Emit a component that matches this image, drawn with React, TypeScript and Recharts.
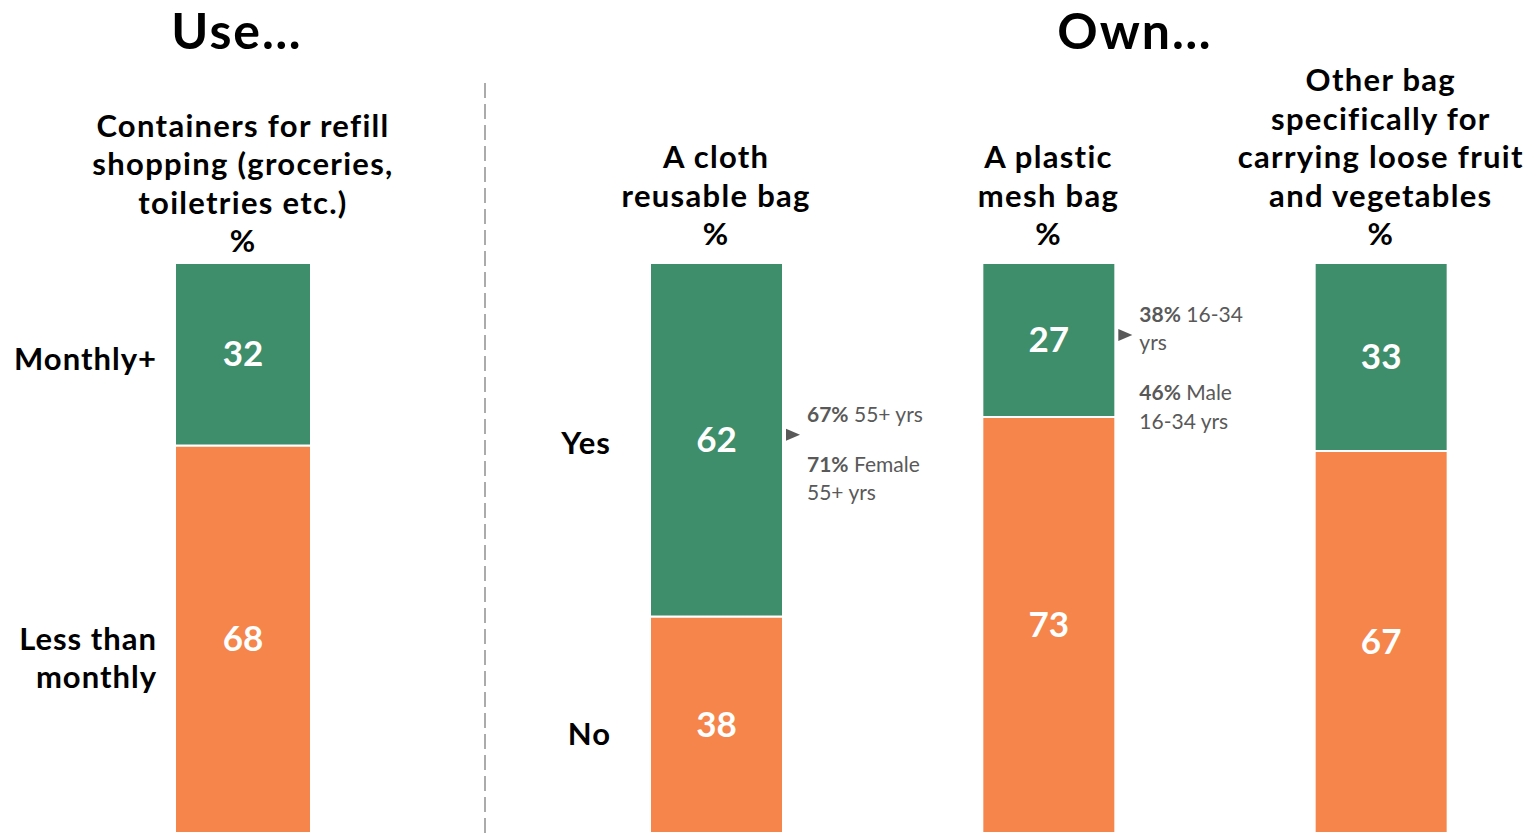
import React from 'react';
import { BarChart, Bar, XAxis, YAxis, LabelList } from 'recharts';

const FONT = "Lato, 'Open Sans', sans-serif";
const GREEN = '#3E8D6B';
const ORANGE = '#F5854A';
const GREY_TXT = '#595959';

// ---- data ----
const useTitle = 'Use…';
const ownTitle = 'Own…';

const useCategories = ['Containers for refill\nshopping (groceries,\ntoiletries etc.)\n%'];
const useMonthly = [32];
const useLess = [68];
const useTopLabel = 'Monthly+';
const useBottomLabel = 'Less than\nmonthly';

const ownCategories = [
  'A cloth\nreusable bag\n%',
  'A plastic\nmesh bag\n%',
  'Other bag\nspecifically for\ncarrying loose fruit\nand vegetables\n%',
];
const ownYes = [62, 27, 33];
const ownNo = [38, 73, 67];
const ownTopLabel = 'Yes';
const ownBottomLabel = 'No';

type Para = { value: string; lines: string[] };
const ownAnnotations: Para[][] = [
  [
    { value: '67%', lines: ['55+ yrs'] },
    { value: '71%', lines: ['Female', '55+ yrs'] },
  ],
  [
    { value: '38%', lines: ['16-34', 'yrs'] },
    { value: '46%', lines: ['Male', '16-34 yrs'] },
  ],
  [],
];

const useData = useCategories.map((c, i) => ({ cat: c, top: useMonthly[i], bottom: useLess[i] }));
const ownData = ownCategories.map((c, i) => ({ cat: c, top: ownYes[i], bottom: ownNo[i] }));

// ---- renderers ----
const makeTick = (baselineOffset: number) => (props: any) => {
  const { x, y, payload } = props;
  const lines = String(payload.value).split('\n');
  const lh = 38.5;
  const base = y + baselineOffset;
  return (
    <g>
      {lines.map((l, i) => (
        <text
          key={i}
          x={x}
          y={base - (lines.length - 1 - i) * lh}
          textAnchor="middle"
          fontFamily={FONT}
          fontWeight={700}
          fontSize={31}
          letterSpacing={1.3}
          fill="#000"
        >
          {l}
        </text>
      ))}
    </g>
  );
};

const valueLabel = (props: any) => {
  const { x, y, width, height, value } = props;
  return (
    <text
      x={x + width / 2}
      y={y + height / 2 + 12}
      textAnchor="middle"
      fontFamily={FONT}
      fontWeight={700}
      fontSize={35}
      fill="#fff"
    >
      {value}
    </text>
  );
};

const sideLabel = (label: string, gap: number, dy: number) => (props: any) => {
  const { x, y, height, index } = props;
  if (index !== 0) return null;
  const lines = label.split('\n');
  const lh = 38;
  const cy = y + height / 2 + dy;
  const first = cy - ((lines.length - 1) * lh) / 2 + 10;
  return (
    <g>
      {lines.map((l, i) => (
        <text
          key={i}
          x={x - gap}
          y={first + i * lh}
          textAnchor="end"
          fontFamily={FONT}
          fontWeight={700}
          fontSize={31}
          letterSpacing={1}
          fill="#000"
        >
          {l}
        </text>
      ))}
    </g>
  );
};

const annotationLabel = (props: any) => {
  const { x, y, width, height, index } = props;
  const paras = ownAnnotations[index] || [];
  if (!paras.length) return null;
  const cy = y + height / 2;
  const ax = x + width + 3;
  const tx = x + width + 24;
  const lh = 28.5;
  const pg = 50;
  let cur = cy - 18;
  const out: React.ReactNode[] = [];
  paras.forEach((p, pi) => {
    p.lines.forEach((l, li) => {
      out.push(
        <text key={`${pi}-${li}`} x={tx} y={cur} fontFamily={FONT} fontSize={21} fill={GREY_TXT}>
          {li === 0 ? (
            <>
              <tspan fontWeight={700}>{p.value}</tspan>
              <tspan> {l}</tspan>
            </>
          ) : (
            l
          )}
        </text>
      );
      cur += li === p.lines.length - 1 ? pg : lh;
    });
  });
  return (
    <g>
      <path d={`M${ax},${cy - 11} L${ax + 14},${cy - 5} L${ax},${cy + 1} Z`} fill={GREY_TXT} />
      {out}
    </g>
  );
};

const titleStyle: React.CSSProperties = {
  position: 'absolute',
  top: 0,
  width: 240,
  textAlign: 'center',
  fontSize: 50,
  fontWeight: 700,
  lineHeight: '60px',
  letterSpacing: 2,
  color: '#000',
  zIndex: 2,
  whiteSpace: 'nowrap',
};

export default function App() {
  return (
    <div
      style={{
        position: 'absolute',
        left: 0,
        top: 0,
        width: 1530,
        height: 834,
        overflow: 'hidden',
        background: '#fff',
        fontFamily: FONT,
      }}
    >
      <svg style={{ position: 'absolute', left: 480, top: 83 }} width={10} height={760}>
        <line x1={5} y1={0} x2={5} y2={760} stroke="#ABABAB" strokeWidth={2} strokeDasharray="15 6" />
      </svg>

      <div style={{ position: 'absolute', left: 0, top: 0 }}>
        <BarChart width={485} height={834} data={useData} margin={{ top: 0, right: 99, left: 100, bottom: 1 }}>
          <XAxis
            dataKey="cat"
            orientation="top"
            height={263}
            axisLine={false}
            tickLine={false}
            interval={0}
            tick={makeTick(-3)}
          />
          <YAxis hide domain={[0, 100]} />
          <Bar dataKey="bottom" stackId="a" fill={ORANGE} stroke="#fff" strokeWidth={2} barSize={136} isAnimationActive={false}>
            <LabelList dataKey="bottom" content={valueLabel} />
            <LabelList dataKey="bottom" content={sideLabel(useBottomLabel, 18, 20)} />
          </Bar>
          <Bar dataKey="top" stackId="a" fill={GREEN} stroke="#fff" strokeWidth={2} barSize={136} isAnimationActive={false}>
            <LabelList dataKey="top" content={valueLabel} />
            <LabelList dataKey="top" content={sideLabel(useTopLabel, 18, 6)} />
          </Bar>
        </BarChart>
      </div>

      <div style={{ position: 'absolute', left: 485, top: 0 }}>
        <BarChart width={1075} height={834} data={ownData} margin={{ top: 0, right: 13, left: 65, bottom: 1 }}>
          <XAxis
            dataKey="cat"
            orientation="top"
            height={263}
            axisLine={false}
            tickLine={false}
            interval={0}
            tick={makeTick(-10)}
          />
          <YAxis hide domain={[0, 100]} />
          <Bar dataKey="bottom" stackId="a" fill={ORANGE} stroke="#fff" strokeWidth={2} barSize={133} isAnimationActive={false}>
            <LabelList dataKey="bottom" content={valueLabel} />
            <LabelList dataKey="bottom" content={sideLabel(ownBottomLabel, 39, 10)} />
          </Bar>
          <Bar dataKey="top" stackId="a" fill={GREEN} stroke="#fff" strokeWidth={2} barSize={133} isAnimationActive={false}>
            <LabelList dataKey="top" content={valueLabel} />
            <LabelList dataKey="top" content={sideLabel(ownTopLabel, 39, 4)} />
            <LabelList dataKey="top" content={annotationLabel} />
          </Bar>
        </BarChart>
      </div>

      <div style={{ ...titleStyle, left: 117 }}>{useTitle}</div>
      <div style={{ ...titleStyle, left: 1015 }}>{ownTitle}</div>
    </div>
  );
}
